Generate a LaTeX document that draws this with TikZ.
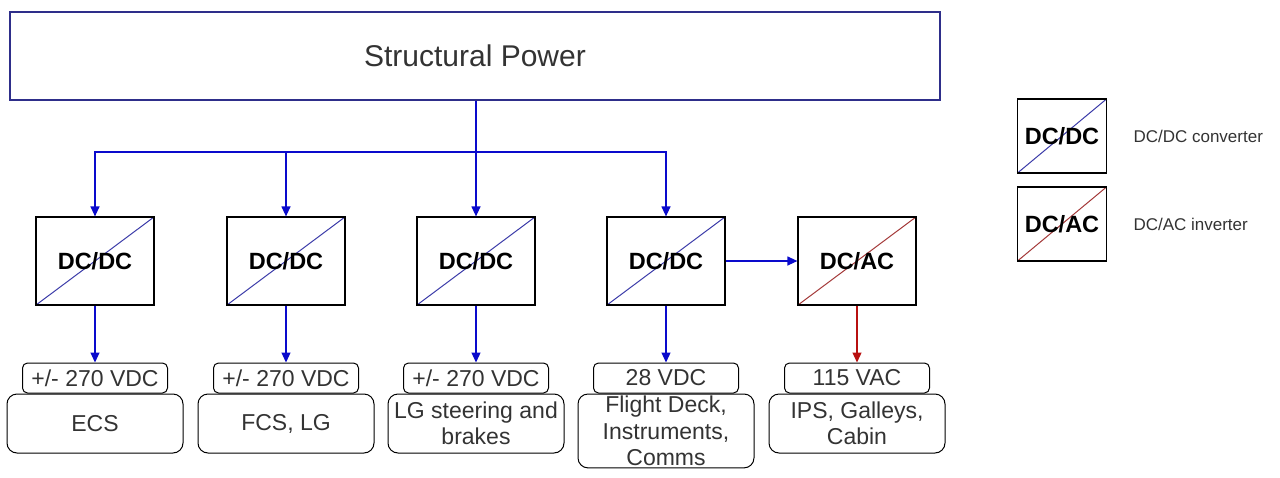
\documentclass[tikz,border=0pt]{standalone}
\usepackage{fontspec}
\setmainfont{Liberation Sans}
\usepackage{tikz}
\usetikzlibrary{arrows.meta}
\definecolor{pwrblue}{HTML}{0A0ACC}
\definecolor{diagblue}{HTML}{3A3AA8}
\definecolor{pwrred}{HTML}{B81010}
\definecolor{diagred}{HTML}{A33838}
\definecolor{frameblue}{HTML}{2E2E8A}
\definecolor{txtgray}{HTML}{333333}
\tikzset{
  spbox/.style={draw=frameblue, line width=1.2pt, minimum width=930pt, minimum height=88pt,
    font=\fontsize{30}{33}\selectfont, text=txtgray},
  convbox/.style={draw=black, line width=1.2pt, minimum width=118pt, minimum height=88pt,
    font=\fontsize{23.5}{26}\selectfont\bfseries},
  dcdiag/.style={convbox, path picture={\draw[diagblue, line width=1pt]
    (path picture bounding box.south west) -- (path picture bounding box.north east);}},
  acdiag/.style={convbox, path picture={\draw[diagred, line width=1pt]
    (path picture bounding box.south west) -- (path picture bounding box.north east);}},
  voltbox/.style={draw=black, line width=1pt, rounded corners=5pt, minimum width=145pt,
    minimum height=30pt, inner sep=1pt, font=\fontsize{23}{25}\selectfont, text=txtgray},
  loadbox/.style={draw=black, line width=1pt, rounded corners=10pt, minimum width=176pt,
    minimum height=59pt, inner sep=2pt, align=center, font=\fontsize{23}{26.5}\selectfont, text=txtgray},
  legtext/.style={anchor=west, font=\fontsize{17}{20}\selectfont, text=txtgray},
  pwr/.style={draw=pwrblue, line width=1.2pt, -{Triangle[length=10pt,width=9pt]}},
  acpwr/.style={draw=pwrred, line width=1.2pt, -{Triangle[length=10pt,width=9pt]}},
}
\begin{document}
\begin{tikzpicture}[x=1pt,y=-1pt]
\useasboundingbox (0,0) rectangle (1280,477);
% top bus
\node[spbox] (sp) at (475,56) {Structural Power};
% converters
\node[dcdiag] (dc1) at (95,261) {DC/DC};
\node[dcdiag] (dc2) at (286,261) {DC/DC};
\node[dcdiag] (dc3) at (476,261) {DC/DC};
\node[dcdiag] (dc4) at (666,261) {DC/DC};
\node[acdiag] (ac5) at (857,261) {DC/AC};
\coordinate (bus) at (476,152);
\draw[pwr] (bus |- sp.south) -- (dc3.north);
\draw[pwr] (bus) -| (dc1.north);
\draw[pwr] (bus) -| (dc2.north);
\draw[pwr] (bus) -| (dc4.north);
\draw[pwr] (dc4.east) -- (ac5.west);
% outputs
\node[voltbox] (v1) at (95,378) {+/- 270 VDC};
\node[voltbox] (v2) at (286,378) {+/- 270 VDC};
\node[voltbox] (v3) at (476,378) {+/- 270 VDC};
\node[voltbox] (v4) at (666,378) {28 VDC};
\node[voltbox] (v5) at (857,378) {115 VAC};
\draw[pwr] (dc1.south) -- (v1.north);
\draw[pwr] (dc2.south) -- (v2.north);
\draw[pwr] (dc3.south) -- (v3.north);
\draw[pwr] (dc4.south) -- (v4.north);
\draw[acpwr] (ac5.south) -- (v5.north);
\node[loadbox, anchor=north] (l1) at (v1.south) {ECS};
\node[loadbox, anchor=north] (l2) at (v2.south) {FCS, LG};
\node[loadbox, anchor=north] (l3) at (v3.south) {LG steering and\\brakes};
\node[loadbox, anchor=north] (l4) at (v4.south) {Flight Deck,\\Instruments,\\Comms};
\node[loadbox, anchor=north] (l5) at (v5.south) {IPS, Galleys,\\Cabin};
% legend
\node[dcdiag, minimum width=89pt, minimum height=74pt] (kdc) at (1062,136) {DC/DC};
\node[acdiag, minimum width=89pt, minimum height=74pt] (kac) at (1062,224) {DC/AC};
\node[legtext] (kdct) at (1130,136) {DC/DC converter};
\node[legtext] (kact) at (1130,224) {DC/AC inverter};
\end{tikzpicture}
\end{document}
